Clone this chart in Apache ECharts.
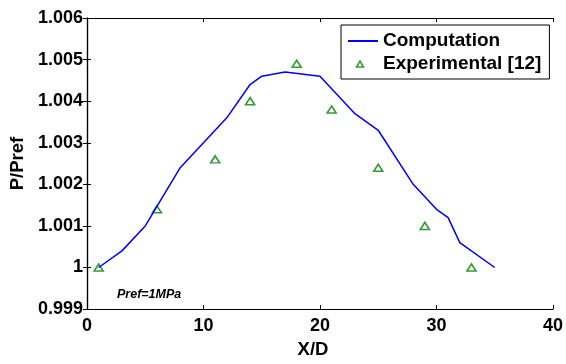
<!DOCTYPE html>
<html>
<head>
<meta charset="utf-8">
<script src="https://cdn.jsdelivr.net/npm/echarts@6/dist/echarts.min.js"></script>
<style>html,body{margin:0;padding:0;background:#fff}#c{width:566px;height:364px}</style>
</head>
<body>
<div id="c"></div>
<script>
const compX = [1, 3, 5, 8, 12, 14, 15, 17, 20, 23, 25, 28, 30, 31, 32, 35];
const compY = [1.0000, 1.0004, 1.0010, 1.0024, 1.0036, 1.0044, 1.0046, 1.0047, 1.0046, 1.0037, 1.0033, 1.0020, 1.0014, 1.0012, 1.0006, 1.0000];
const expX = [1, 6, 11, 14, 18, 21, 25, 29, 33];
const expY = [1.0000, 1.0014, 1.0026, 1.0040, 1.0049, 1.0038, 1.0024, 1.0010, 1.0000];
const xTicks = ['0', '10', '20', '30', '40'];
const yTicks = ['0.999', '1', '1.001', '1.002', '1.003', '1.004', '1.005', '1.006'];
const seriesNames = ['Computation', 'Experimental [12]'];

const FONT = '"Liberation Sans", Arial, Helvetica, sans-serif';
const chart = echarts.init(document.getElementById('c'), null, {renderer: 'canvas'});
const axisLine = {show: true, lineStyle: {color: '#000', width: 1.2}};
const tick = {show: true, inside: true, length: 4, lineStyle: {color: '#000', width: 1}};
chart.setOption({
  animation: false,
  backgroundColor: '#fff',
  grid: {left: 87, right: 12, top: 18, bottom: 43, containLabel: false},
  xAxis: [{
    type: 'value', min: 0, max: 40, interval: 10, position: 'bottom',
    axisLine: axisLine, axisTick: tick, splitLine: {show: false},
    axisLabel: {margin: 8, color: '#000', fontFamily: FONT, fontWeight: 'bold', fontSize: 18,
      formatter: v => xTicks[Math.round(v / 10)]},
    name: 'X/D', nameLocation: 'middle', nameGap: 28,
    nameTextStyle: {color: '#000', fontFamily: FONT, fontWeight: 'bold', fontSize: 18.5, padding: [0, 14, 0, 0]}
  }, {
    type: 'value', min: 0, max: 40, interval: 10, position: 'top',
    axisLine: axisLine, axisTick: tick, axisLabel: {show: false}, splitLine: {show: false}
  }],
  yAxis: [{
    type: 'value', min: 0.999, max: 1.006, interval: 0.001, position: 'left',
    axisLine: axisLine, axisTick: tick, splitLine: {show: false},
    axisLabel: {margin: 4, color: '#000', fontFamily: FONT, fontWeight: 'bold', fontSize: 18,
      formatter: v => yTicks[Math.round((v - 0.999) / 0.001)]},
    name: 'P/Pref', nameLocation: 'middle', nameGap: 57,
    nameTextStyle: {color: '#000', fontFamily: FONT, fontWeight: 'bold', fontSize: 18.5}
  }, {
    type: 'value', min: 0.999, max: 1.006, interval: 0.001, position: 'right',
    axisLine: axisLine, axisTick: tick, axisLabel: {show: false}, splitLine: {show: false}
  }],
  legend: {
    orient: 'vertical', left: 341, top: 25,
    padding: [6, 8, 5, 6], itemGap: 3, itemWidth: 30, itemHeight: 8,
    backgroundColor: '#fff', borderColor: '#000', borderWidth: 1, borderRadius: 0,
    textStyle: {color: '#000', fontFamily: FONT, fontWeight: 'bold', fontSize: 19, lineHeight: 20},
    data: [
      {name: seriesNames[0], itemStyle: {opacity: 0}},
      {name: seriesNames[1], icon: 'path://M0,0 M30,8 M8.5,7 L12,1 L15.5,7 Z',
       itemStyle: {color: 'rgba(255,255,255,0)', borderColor: '#008000', borderWidth: 1.5}}
    ]
  },
  graphic: [{
    type: 'text', left: 117, top: 288,
    style: {text: 'Pref=1MPa', fill: '#000', font: 'italic bold 12.5px ' + FONT}
  }],
  series: [{
    name: seriesNames[0], type: 'line', xAxisIndex: 0, yAxisIndex: 0,
    data: compX.map((x, i) => [x, compY[i]]),
    symbol: 'none', lineStyle: {color: '#0000ff', width: 1.5}, itemStyle: {color: '#0000ff'}
  }, {
    name: seriesNames[1], type: 'scatter', xAxisIndex: 0, yAxisIndex: 0,
    data: expX.map((x, i) => [x, expY[i]]),
    symbol: 'triangle', symbolSize: [9, 7],
    itemStyle: {color: 'rgba(255,255,255,0)', borderColor: '#008000', borderWidth: 1.6}
  }]
});
</script>
</body>
</html>
